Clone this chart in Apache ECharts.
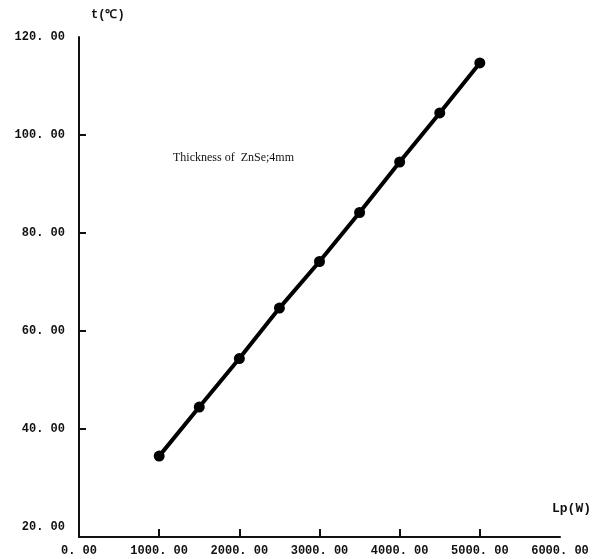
<!DOCTYPE html>
<html>
<head>
<meta charset="utf-8">
<script src="https://cdn.jsdelivr.net/npm/echarts@6/dist/echarts.min.js"></script>
<style>html,body{margin:0;padding:0;background:#fff}#c{width:604px;height:559px}</style>
</head>
<body>
<div id="c"></div>
<script>
const powerW = [1000, 1500, 2000, 2500, 3000, 3500, 4000, 4500, 5000];
const tempC = [34.5, 44.5, 54.4, 64.7, 74.2, 84.2, 94.5, 104.5, 114.7];
const xTickValues = [1000, 2000, 3000, 4000, 5000];
const xLabelValues = [0, 1000, 2000, 3000, 4000, 5000, 6000];
const yTickValues = [40, 60, 80, 100];
const yLabelValues = [20, 40, 60, 80, 100, 120];
const annotation = 'Thickness of  ZnSe;4mm';

const fmt = v => { const s = Number(v).toFixed(2).split('.'); return s[0] + '. ' + s[1]; };
const labelFont = { fontFamily: 'Liberation Mono', fontWeight: 'bold', fontSize: 12, color: '#111' };

const chart = echarts.init(document.getElementById('c'));
chart.setOption({
  animation: false,
  backgroundColor: '#fff',
  title: {
    text: annotation, left: 168, top: 147,
    textStyle: { fontFamily: 'Liberation Serif', fontWeight: 'normal', fontSize: 12, color: '#111' }
  },
  grid: { left: 79, right: 44, top: 37, bottom: 22 },
  xAxis: {
    type: 'value', min: 0, max: 6000,
    name: 'Lp(W)', nameLocation: 'end', nameGap: -8,
    nameTextStyle: Object.assign({}, labelFont, { fontSize: 13, align: 'left', verticalAlign: 'bottom', padding: [0, 0, 22, 0] }),
    axisLine: { show: true, lineStyle: { color: '#111', width: 2 } },
    axisTick: { show: true, inside: true, length: 8, lineStyle: { color: '#111', width: 2 }, customValues: xTickValues },
    axisLabel: Object.assign({}, labelFont, { margin: 8, customValues: xLabelValues, formatter: fmt }),
    splitLine: { show: false }
  },
  yAxis: {
    type: 'value', min: 18, max: 120,
    name: 't(℃)', nameLocation: 'end', nameGap: 16,
    nameTextStyle: Object.assign({}, labelFont, { fontSize: 12, align: 'left', padding: [0, 0, 0, 12] }),
    axisLine: { show: true, lineStyle: { color: '#111', width: 2 } },
    axisTick: { show: true, inside: true, length: 7, lineStyle: { color: '#111', width: 2 }, customValues: yTickValues },
    axisLabel: Object.assign({}, labelFont, { margin: 14, customValues: yLabelValues, formatter: fmt }),
    splitLine: { show: false }
  },
  series: [{
    type: 'line',
    data: powerW.map((x, i) => [x, tempC[i]]),
    lineStyle: { color: '#000', width: 4 },
    itemStyle: { color: '#000' },
    symbol: 'circle', symbolSize: 11,
    showSymbol: true
  }]
});
</script>
</body>
</html>
